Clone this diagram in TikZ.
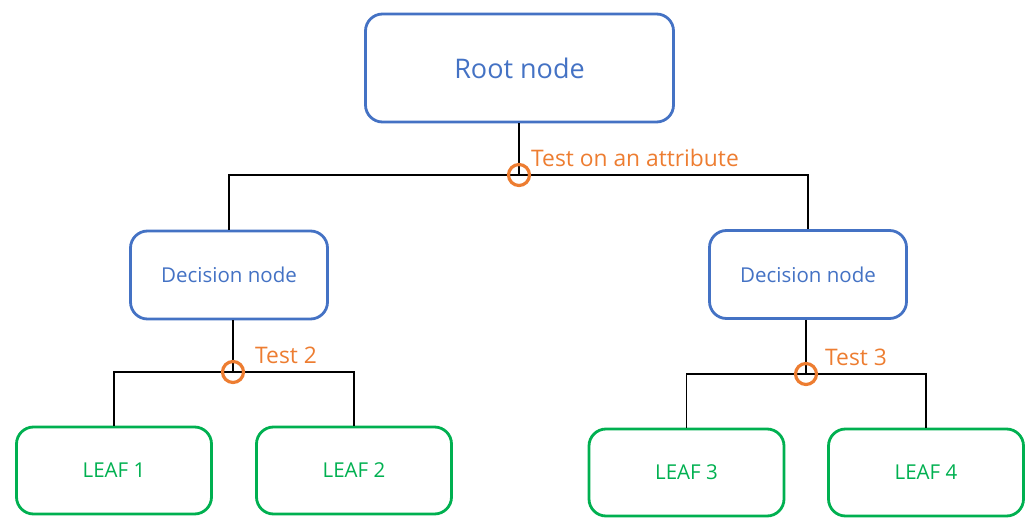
\documentclass[tikz,border=0pt]{standalone}
\usepackage{fontspec}
\setmainfont{Open Sans}
\definecolor{nodeblue}{HTML}{4472C4}
\definecolor{leafgreen}{HTML}{00B050}
\definecolor{testorange}{HTML}{ED7D31}
\begin{document}
\begin{tikzpicture}[x=1pt,y=-1pt,
  box/.style={draw, rounded corners=17pt, line width=2.8pt, inner sep=0pt},
  rootbox/.style={box, draw=nodeblue, text=nodeblue, minimum width=308pt, minimum height=108pt, font=\fontsize{27}{30}\selectfont},
  decbox/.style={box, draw=nodeblue, text=nodeblue, minimum width=197pt, minimum height=88pt, font=\fontsize{20.5}{24}\selectfont},
  leafbox/.style={box, draw=leafgreen, text=leafgreen, minimum width=195pt, minimum height=87pt, font=\fontsize{20.5}{24}\selectfont},
  link/.style={draw=black, line width=1.5pt},
  ring/.style={draw=testorange, circle, line width=3.2pt, minimum size=21pt, inner sep=0pt},
  testlabel/.style={text=testorange, anchor=west, inner sep=0pt, font=\fontsize{22.8}{26}\selectfont}
]
\useasboundingbox (0,0) rectangle (1035,518);
% nodes
\node[rootbox] (root) at (519.5,68) {Root node};
\node[decbox] (decL) at (229,275) {Decision node};
\node[decbox] (decR) at (808,274.5) {Decision node};
\node[leafbox] (leaf1) at (114,470.5) {LEAF 1};
\node[leafbox] (leaf2) at (354,470.5) {LEAF 2};
\node[leafbox] (leaf3) at (686.5,472.5) {LEAF 3};
\node[leafbox] (leaf4) at (926,472.5) {LEAF 4};
% junctions
\coordinate (j1) at (519,175);
\coordinate (j2) at (233,372);
\coordinate (j3) at (806,374);
% connectors
\draw[link] (root.south -| j1) -- (j1);
\draw[link] (decL.north) |- (j1) -| (decR.north);
\draw[link] (decL.south -| j2) -- (j2);
\draw[link] (leaf1.north) |- (j2) -| (leaf2.north);
\draw[link] (decR.south -| j3) -- (j3);
\draw[link] (leaf3.north) |- (j3) -| (leaf4.north);
% rings
\node[ring] (r1) at (j1) {};
\node[ring] (r2) at (j2) {};
\node[ring] (r3) at (j3) {};
% test labels
\node[testlabel] (t1) at (531,158) {Test on an attribute};
\node[testlabel] (t2) at (255,355) {Test 2};
\node[testlabel] (t3) at (825,357) {Test 3};
\end{tikzpicture}
\end{document}
